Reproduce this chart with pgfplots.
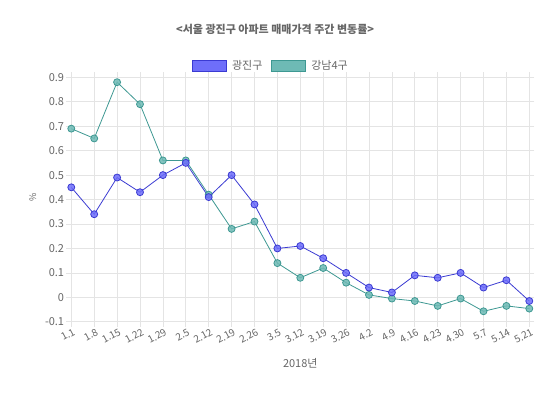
\documentclass[border=0pt]{standalone}
\usepackage{pgfplots}
\pgfplotsset{compat=1.18}
\usepackage{fontspec}
\setmainfont{Noto Sans CJK KR}
\definecolor{blueline}{RGB}{58,58,210}
\definecolor{bluefill}{RGB}{110,110,250}
\definecolor{tealline}{RGB}{62,152,146}
\definecolor{tealfill}{RGB}{110,186,181}
\definecolor{txt}{RGB}{102,102,102}
\definecolor{gridc}{RGB}{228,228,228}
\begin{document}
\begin{tikzpicture}
\path[use as bounding box] (0,0) rectangle (550pt,395pt);
\begin{axis}[
  at={(71.3pt,73.2pt)}, anchor=south west,
  width=458pt, height=244.5pt, scale only axis,
  xmin=0, xmax=20, ymin=-0.1, ymax=0.9,
  xtick={0,...,20},
  xticklabels={1.1,1.8,1.15,1.22,1.29,2.5,2.12,2.19,2.26,3.5,3.12,3.19,3.26,4.2,4.9,4.16,4.23,4.30,5.7,5.14,5.21},
  ytick={-0.1,0,0.1,0.2,0.3,0.4,0.5,0.6,0.7,0.8,0.9},
  yticklabels={-0.1,0,0.1,0.2,0.3,0.4,0.5,0.6,0.7,0.8,0.9},
  grid=major, grid style={gridc, line width=0.7pt},
  axis line style={draw=none},
  tick align=outside, major tick length=5pt,
  tick style={gridc, line width=0.7pt},
  ticklabel style={font=\fontsize{11}{13}\selectfont, text=txt},
  xticklabel style={font=\fontsize{10}{12}\selectfont, rotate=28, anchor=north east, inner sep=0.5pt, yshift=-1pt, xshift=1pt},
  yticklabel style={inner sep=2pt},
  /pgf/number format/assume math mode=true,
  title={\textbf{<서울 광진구 아파트 매매가격 주간 변동률>}},
  title style={at={(rel axis cs:0.445,1.170)}, anchor=center, font=\fontsize{11}{13}\selectfont, text=txt},
  xlabel={2018년},
  xlabel style={at={(rel axis cs:0.5,-0.17)}, anchor=center, font=\fontsize{11}{13}\selectfont, text=txt},
  ylabel={\%},
  ylabel style={at={(rel axis cs:-0.084,0.51)}, anchor=center, rotate=0, font=\fontsize{9}{11}\selectfont, text=txt},
  legend columns=2,
  legend style={at={(rel axis cs:0.435,1.048)}, anchor=center, draw=none, fill=none,
    font=\fontsize{11}{13}\selectfont, text=txt,
    nodes={inner xsep=1pt},
    /tikz/every even column/.append style={column sep=8pt}},
  legend image code/.code={\draw[#1] (0pt,-5.5pt) rectangle (34pt,5.5pt); \path (38pt,0pt);},
]
\addlegendimage{draw=blueline, fill=bluefill, line width=0.8pt}
\addlegendentry{광진구}
\addlegendimage{draw=tealline, fill=tealfill, line width=0.8pt}
\addlegendentry{강남4구}
\addplot[forget plot, tealline, line width=0.8pt, mark=*, mark size=3.5pt,
  mark options={fill=tealfill, fill opacity=0.85, draw=tealline, line width=0.8pt}]
  coordinates {(0,0.69)(1,0.65)(2,0.88)(3,0.79)(4,0.56)(5,0.56)(6,0.42)(7,0.28)(8,0.31)(9,0.14)(10,0.08)(11,0.12)(12,0.06)(13,0.01)(14,-0.005)(15,-0.015)(16,-0.035)(17,-0.005)(18,-0.057)(19,-0.035)(20,-0.046)};
\addplot[forget plot, blueline, line width=0.8pt, mark=*, mark size=3.5pt,
  mark options={fill=bluefill, fill opacity=0.85, draw=blueline, line width=0.8pt}]
  coordinates {(0,0.45)(1,0.34)(2,0.49)(3,0.43)(4,0.50)(5,0.55)(6,0.41)(7,0.50)(8,0.38)(9,0.20)(10,0.21)(11,0.16)(12,0.10)(13,0.04)(14,0.02)(15,0.09)(16,0.08)(17,0.10)(18,0.04)(19,0.07)(20,-0.015)};
\end{axis}
\end{tikzpicture}
\end{document}
